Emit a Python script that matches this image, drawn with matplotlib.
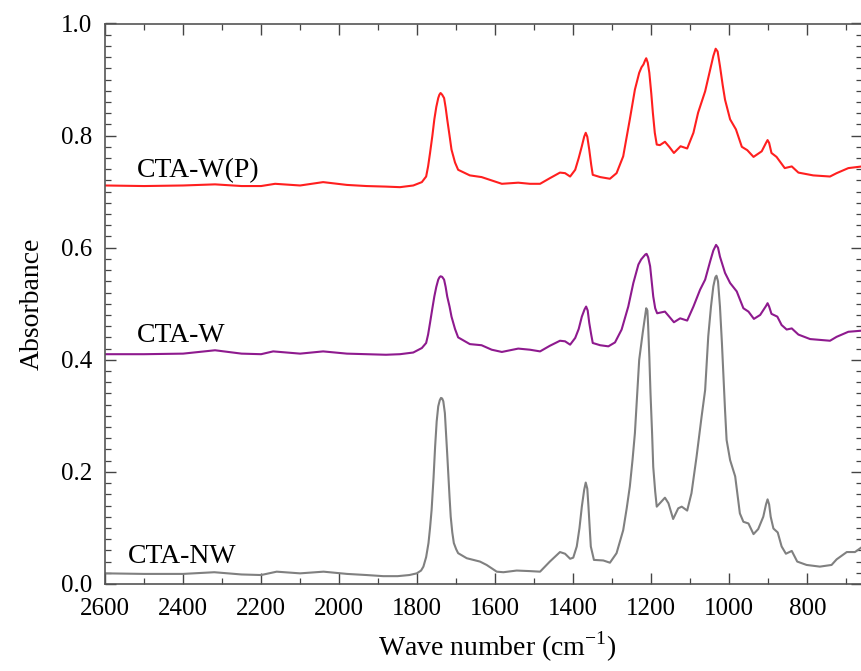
import matplotlib
matplotlib.use("Agg")
import matplotlib.pyplot as plt
from matplotlib.ticker import MultipleLocator

plt.rcParams['font.family'] = ['Liberation Serif', 'DejaVu Serif']
plt.rcParams['mathtext.fontset'] = 'custom'
plt.rcParams['mathtext.rm'] = 'Liberation Serif'

# CTA-NW (gray)
wn_nw = [2600, 2500, 2400, 2320, 2250, 2200, 2160, 2100, 2040, 1980, 1930, 1887, 1850,
         1820, 1801, 1790, 1784, 1777, 1771, 1767, 1763, 1758, 1754, 1750, 1746, 1742, 1739,
         1736, 1733, 1729, 1726, 1723, 1720, 1717, 1714, 1710, 1706, 1700,
         1695, 1673, 1639, 1622, 1596, 1579, 1545, 1511, 1485, 1460, 1434, 1421, 1408,
         1400, 1391, 1384, 1378, 1372, 1368, 1364, 1361, 1355, 1347, 1323, 1306, 1289, 1272,
         1263, 1255, 1248, 1242, 1236, 1231, 1222, 1216, 1213, 1210, 1208, 1205, 1202, 1198, 1195,
         1190, 1186, 1178, 1165, 1156, 1144, 1131, 1122,
         1108, 1097, 1084, 1071, 1062, 1054, 1047, 1041, 1036, 1033, 1029, 1024, 1019, 1015, 1011,
         1007, 998, 985,
         973, 964, 951, 938, 926, 913, 906, 902, 898, 894, 887, 876, 866, 855, 840, 826, 802,
         768, 738, 725, 699, 678, 660]
a_nw = [0.019, 0.018, 0.018, 0.021, 0.017, 0.016, 0.022, 0.019, 0.022, 0.018, 0.016, 0.014, 0.014,
        0.016, 0.019, 0.024, 0.031, 0.048, 0.073, 0.100, 0.132, 0.190, 0.245, 0.290, 0.317, 0.328,
        0.332, 0.331, 0.326, 0.305, 0.270, 0.232, 0.192, 0.155, 0.120, 0.092, 0.073, 0.062,
        0.055, 0.046, 0.040, 0.034, 0.022, 0.021, 0.024, 0.023, 0.022, 0.040, 0.057, 0.054, 0.045,
        0.047, 0.067, 0.100, 0.138, 0.168, 0.181, 0.170, 0.138, 0.067, 0.043, 0.042, 0.038, 0.055,
        0.096, 0.135, 0.174, 0.222, 0.269, 0.340,
        0.400, 0.448, 0.478, 0.492, 0.488, 0.460, 0.405, 0.340, 0.270, 0.209,
        0.165, 0.138, 0.144, 0.154, 0.144, 0.116, 0.135, 0.138,
        0.131, 0.162, 0.227, 0.299, 0.346, 0.442, 0.495, 0.531, 0.547, 0.550, 0.540, 0.495, 0.430,
        0.370, 0.310, 0.257, 0.221, 0.192,
        0.126, 0.111, 0.108, 0.089, 0.098, 0.120, 0.142, 0.151, 0.142, 0.120, 0.099, 0.092, 0.067,
        0.054, 0.059, 0.040, 0.034,
        0.031, 0.034, 0.044, 0.057, 0.057, 0.066]

# CTA-W (purple)
wn_w = [2600, 2500, 2400, 2318, 2250, 2200, 2169, 2100, 2041, 1980, 1930, 1880, 1844,
        1810, 1788, 1777, 1772, 1767, 1761, 1756, 1751, 1746, 1743, 1740, 1736, 1731, 1727,
        1723, 1717, 1712, 1703, 1695, 1665, 1635,
        1609, 1583, 1541, 1511, 1485, 1460, 1434, 1421, 1408, 1395, 1386, 1378, 1371, 1367,
        1363, 1359, 1354, 1350, 1331, 1310, 1293, 1276, 1259, 1246, 1233, 1226, 1220, 1215,
        1212, 1208, 1203, 1199, 1195, 1190, 1185,
        1165, 1154, 1142, 1126, 1108, 1092, 1075, 1062, 1049, 1041, 1034, 1029, 1024, 1011, 998,
        981, 964, 951, 937, 921, 906, 902, 898, 892, 877, 866, 853, 840, 823, 793, 742, 725,
        695, 660]
a_w = [0.410, 0.410, 0.411, 0.417, 0.411, 0.410, 0.415, 0.411, 0.415, 0.411, 0.410, 0.409, 0.410,
       0.413, 0.421, 0.430, 0.445, 0.466, 0.492, 0.513, 0.530, 0.543, 0.547, 0.549, 0.548, 0.543,
       0.530, 0.513, 0.495, 0.477, 0.455, 0.440, 0.428, 0.426,
       0.418, 0.414, 0.420, 0.418, 0.415, 0.425, 0.434, 0.433, 0.427, 0.439, 0.455, 0.477, 0.490,
       0.495, 0.488, 0.466, 0.445, 0.430, 0.426, 0.424, 0.431, 0.454, 0.495, 0.537, 0.570, 0.579,
       0.584, 0.588, 0.589, 0.583, 0.567, 0.540, 0.513, 0.492, 0.483,
       0.486, 0.477, 0.467, 0.474, 0.470, 0.495, 0.525, 0.543, 0.576, 0.595, 0.605, 0.600, 0.584,
       0.555, 0.537,
       0.522, 0.492, 0.486, 0.473, 0.480, 0.496, 0.501, 0.495, 0.482, 0.477, 0.462, 0.454, 0.456,
       0.445, 0.437, 0.434, 0.441, 0.450, 0.452]

# CTA-W(P) (red)
wn_wp = [2600, 2500, 2400, 2318, 2250, 2200, 2164, 2100, 2041, 1980, 1930, 1880, 1844,
         1810, 1788, 1777, 1772, 1767, 1761, 1756, 1751, 1746, 1743, 1740, 1736, 1731, 1727,
         1723, 1717, 1712, 1703, 1695, 1665, 1635,
         1609, 1583, 1541, 1511, 1485, 1460, 1434, 1421, 1408, 1395, 1386, 1378, 1372, 1368,
         1364, 1359, 1354, 1350, 1331, 1306, 1289, 1272, 1255, 1242, 1231, 1225, 1220, 1216,
         1213, 1209, 1205, 1200, 1196, 1191, 1186,
         1178, 1165, 1154, 1142, 1125, 1108, 1092, 1080, 1062, 1049, 1041, 1035, 1030, 1024, 1017,
         1011, 998, 983, 968, 954, 938, 917, 906, 902, 898, 892, 879, 858, 840, 823, 785, 742, 725,
         695, 660]
a_wp = [0.711, 0.710, 0.711, 0.713, 0.710, 0.710, 0.714, 0.711, 0.717, 0.712, 0.710, 0.709, 0.708,
        0.711, 0.717, 0.727, 0.745, 0.769, 0.800, 0.829, 0.851, 0.867, 0.873, 0.876, 0.873, 0.867,
        0.850, 0.829, 0.800, 0.775, 0.752, 0.739, 0.729, 0.726,
        0.720, 0.714, 0.716, 0.714, 0.714, 0.724, 0.734, 0.733, 0.727, 0.739, 0.760, 0.781, 0.798,
        0.805, 0.798, 0.775, 0.748, 0.730, 0.726, 0.723, 0.733, 0.763, 0.829, 0.882, 0.912, 0.922,
        0.927, 0.934, 0.938, 0.930, 0.912, 0.875, 0.841, 0.805, 0.784,
        0.783, 0.789, 0.780, 0.769, 0.781, 0.777, 0.805, 0.841, 0.879, 0.918, 0.942, 0.955, 0.950,
        0.924, 0.890,
        0.864, 0.829, 0.811, 0.780, 0.774, 0.762, 0.772, 0.787, 0.792, 0.787, 0.769, 0.762, 0.742,
        0.745, 0.734, 0.729, 0.727, 0.733, 0.742, 0.745]

fig = plt.figure(figsize=(8.62, 6.71), dpi=100)
ax = fig.add_axes([105 / 862, 1 - 584 / 671, 1 - 105 / 862, (584 - 23.5) / 671])

ax.plot(wn_nw, a_nw, color='#808080', lw=1.5)
ax.plot(wn_w, a_w, color='#8e1a8e', lw=1.5)
ax.plot(wn_wp, a_wp, color='#ff1f1f', lw=1.5)

ax.text(2518, 0.7256, 'CTA-W(P)', fontsize=20, ha='left', va='baseline')
ax.text(2518, 0.4316, 'CTA-W', fontsize=20, ha='left', va='baseline')
ax.text(2541, 0.037, 'CTA-NW', fontsize=20, ha='left', va='baseline')

ax.set_xlim(2600, 660)
ax.set_ylim(0, 1.0)
ax.xaxis.set_major_locator(MultipleLocator(200))
ax.xaxis.set_minor_locator(MultipleLocator(100))
ax.yaxis.set_major_locator(MultipleLocator(0.2))
ax.yaxis.set_minor_locator(MultipleLocator(0.02))
ax.yaxis.set_major_formatter(plt.FuncFormatter(lambda v, p: f'{v:.1f}'))

ax.tick_params(which='both', direction='in', top=True, right=True, color='#444444',
               labelsize=18)
ax.tick_params(which='major', length=8, width=1.0)
ax.tick_params(which='minor', length=4.5, width=0.9)
ax.tick_params(axis='x', pad=10)
ax.tick_params(axis='y', pad=9)
for s in ax.spines.values():
    s.set_color('#555555')
    s.set_linewidth(1.2)

ax.set_xlabel('Wave number (cm$^{-1}$)', fontsize=20)
ax.set_ylabel('Absorbance', fontsize=20)
ax.xaxis.set_label_coords((497 - 105) / 757, -0.082)
ax.yaxis.set_label_coords(-0.08, 0.5)

fig.savefig('out.png', dpi=100)
